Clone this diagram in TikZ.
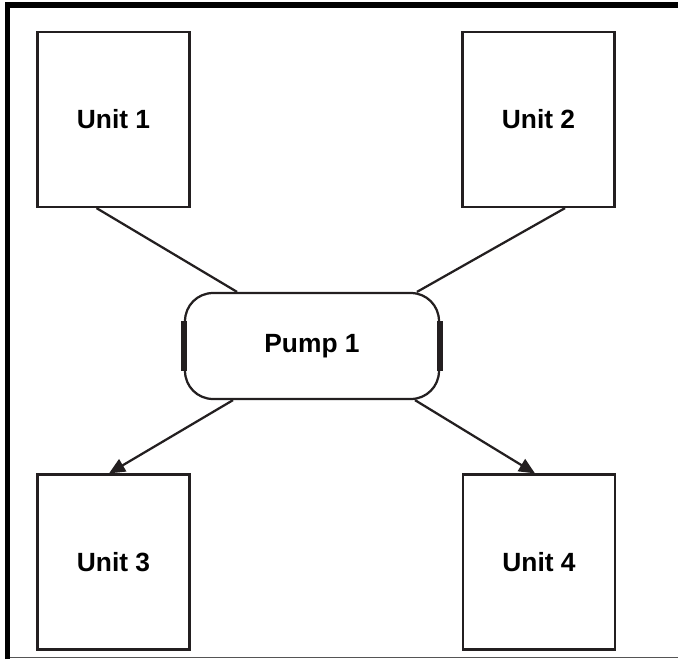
\documentclass[tikz,border=0pt]{standalone}
\usepackage{fontspec}
\setmainfont{Liberation Sans}
\usetikzlibrary{arrows.meta,calc}
\definecolor{ink}{HTML}{231F20}
\definecolor{rule}{HTML}{555555}

\begin{document}
\begin{tikzpicture}[x=0.02cm,y=-0.02cm,>={Triangle[length=3.2mm,width=2.8mm]},
    unitbox/.style={draw=ink,line width=0.45mm,minimum width=3.04cm,minimum height=3.5cm,font=\fontsize{15}{18}\selectfont\bfseries},
    pumpbox/.style={draw=ink,line width=0.45mm,rounded corners=0.56cm,minimum width=5.08cm,minimum height=2.12cm,font=\fontsize{15}{18}\selectfont\bfseries},
    link/.style={draw=ink,line width=0.45mm}]
  \useasboundingbox (0,0) rectangle (678,659);
  % frame
  \draw[line width=1.2mm,black] (7.5,659) -- (7.5,5) -- (678,5);
  \draw[rule,line width=0.25mm] (10,657.5) -- (678,657.5);
  % units and pump
  \foreach \x/\y/\name/\lab in {113.5/119.5/u1/Unit 1,538.5/119.5/u2/Unit 2,113.5/562/u3/Unit 3,539/562/u4/Unit 4}
    \node[unitbox] (\name) at (\x,\y) {\lab};
  \node[pumpbox] (pump) at (312,346) {Pump 1};
  \draw[ink,line width=1.1mm] ([yshift=0.5cm]pump.west) -- ([yshift=-0.5cm]pump.west);
  \draw[ink,line width=1.1mm] ([yshift=0.5cm]pump.east) -- ([yshift=-0.5cm]pump.east);
  % links
  \draw[link] ([xshift=-0.34cm]u1.south) -- ([xshift=-1.5cm]pump.north);
  \draw[link] ([xshift=0.53cm]u2.south) -- ([xshift=2.1cm]pump.north);
  \draw[link,->] ([xshift=-1.58cm]pump.south) -- ([xshift=-0.09cm]u3.north);
  \draw[link,->] ([xshift=2.06cm]pump.south) -- ([xshift=-0.08cm]u4.north);
\end{tikzpicture}
\end{document}
